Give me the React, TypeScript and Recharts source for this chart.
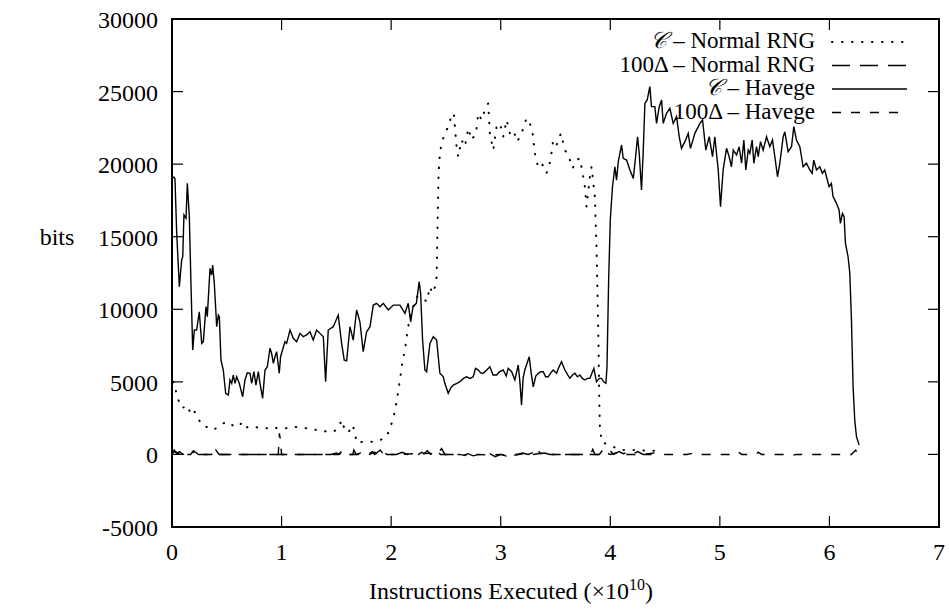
import { Label, Legend, Line, LineChart, ReferenceArea, XAxis, YAxis } from "recharts";

const xTicks = [0, 1, 2, 3, 4, 5, 6, 7];
const yTicks = [-5000, 0, 5000, 10000, 15000, 20000, 25000, 30000];

// C - Normal RNG (dotted)
const normalC: [number, number][] = [
  [0.01, 5000], [0.027, 4900], [0.043, 3975], [0.073, 3520], [0.094, 3180], [0.134, 3400],
  [0.164, 2940], [0.189, 3180], [0.231, 2600], [0.271, 2030], [0.332, 1840], [0.377, 1680],
  [0.423, 1910], [0.468, 2140], [0.514, 2250], [0.559, 1960], [0.605, 1910], [0.645, 2250],
  [0.687, 1870], [0.736, 1960], [0.803, 1800], [0.87, 1800], [0.909, 1910], [0.961, 1800],
  [1.016, 1800], [1.052, 1800], [1.107, 1910], [1.168, 1870], [1.229, 1800], [1.29, 1680],
  [1.35, 1720], [1.411, 1560], [1.472, 1560], [1.518, 1800], [1.548, 2370], [1.578, 1680],
  [1.609, 1500], [1.649, 2030], [1.67, 1450], [1.685, 810], [1.746, 875], [1.822, 875],
  [1.883, 920], [1.959, 1220], [1.989, 1800], [2.02, 2490], [2.05, 3630], [2.08, 5130],
  [2.105, 6500], [2.126, 7190], [2.148, 8450], [2.171, 9490], [2.202, 10180], [2.238, 10870],
  [2.278, 10870], [2.324, 10520], [2.354, 11550], [2.378, 11100], [2.4, 11550], [2.415, 12240],
  [2.421, 14770], [2.427, 17070], [2.433, 19370], [2.445, 20750], [2.46, 21430], [2.49, 22120],
  [2.53, 22700], [2.552, 23500], [2.573, 23390], [2.597, 21200], [2.612, 20510], [2.643, 21660],
  [2.673, 21200], [2.704, 22470], [2.734, 21660], [2.774, 22120], [2.795, 23500], [2.826, 23040],
  [2.856, 23730], [2.886, 24190], [2.901, 22120], [2.932, 20970], [2.962, 22580], [2.993, 22810],
  [3.023, 21890], [3.053, 23040], [3.084, 22120], [3.114, 22350], [3.151, 21550], [3.19, 22120],
  [3.236, 23160], [3.266, 22810], [3.291, 22120], [3.312, 20750], [3.343, 19710], [3.382, 19940],
  [3.418, 19370], [3.455, 20280], [3.479, 21660], [3.51, 21320], [3.549, 22120], [3.586, 20970],
  [3.616, 20630], [3.656, 19710], [3.692, 20280], [3.723, 20400], [3.753, 19130], [3.768, 18450],
  [3.783, 17070], [3.814, 19130], [3.829, 19820], [3.859, 17760], [3.874, 14310], [3.884, 10870],
  [3.893, 7420], [3.899, 3975], [3.905, 1910], [3.92, 875], [3.95, 765], [3.996, 650],
  [4.057, 420], [4.102, 300], [4.163, 300], [4.254, 300], [4.33, 250], [4.42, 250],
];

// 100Δ - Normal RNG (long dash)
const normalDelta: [number, number][] = [
  [0, 0], [0.02, 300], [0.04, 80], [0.07, 200], [0.1, 0], [0.13, 150], [0.16, 0], [0.2, 250],
  [0.24, 0], [0.3, 0], [0.38, 0], [0.4, 300], [0.43, 0], [0.5, 0], [0.6, 0], [0.7, 0], [0.8, 0],
  [0.9, 0], [1.0, 0], [1.1, 0], [1.2, 0], [1.3, 0], [1.45, 0], [1.5, 100], [1.53, 0], [1.55, 250],
  [1.58, 0], [1.65, 0], [1.66, 300], [1.68, 0], [1.72, 100], [1.75, 0], [1.78, 150], [1.8, 50],
  [1.83, 200], [1.85, 0], [1.9, 300], [1.92, 100], [1.95, 200], [1.98, 0], [2.05, 0], [2.1, 150],
  [2.15, 0], [2.25, 0], [2.28, 150], [2.3, 50], [2.33, 250], [2.36, 0], [2.4, 200], [2.43, 100],
  [2.46, 400], [2.49, 0], [2.6, 0], [2.65, -100], [2.7, 50], [2.75, -100], [2.8, 0], [2.85, -100],
  [2.9, 50], [2.95, -150], [3.0, 0], [3.05, -100], [3.1, 100], [3.15, 0], [3.2, 100], [3.25, 0],
  [3.3, 150], [3.33, 450], [3.36, 50], [3.4, 100], [3.45, 0], [3.55, 0], [3.7, 0], [3.82, 0],
  [3.84, 350], [3.86, 0], [3.9, 0], [3.93, 300], [3.96, 100], [4.0, 250], [4.03, 0], [4.08, 200],
  [4.12, 50], [4.16, 150], [4.2, 0], [4.25, 200], [4.3, 0], [4.4, 0],
];

// C - Havege (solid)
const havegeC: [number, number][] = [
  [0.005, 19100], [0.018, 19100], [0.027, 18990], [0.043, 15230], [0.067, 11550], [0.088, 13390],
  [0.098, 13620], [0.109, 16500], [0.128, 16270], [0.14, 18680], [0.158, 16380], [0.173, 11790],
  [0.189, 7190], [0.204, 8570], [0.225, 8570], [0.249, 9830], [0.271, 7650], [0.286, 7770],
  [0.31, 10180], [0.322, 9490], [0.347, 12820], [0.362, 12360], [0.371, 13050], [0.386, 11790],
  [0.408, 8800], [0.423, 9600], [0.432, 9490], [0.447, 6500], [0.468, 5815], [0.49, 4210],
  [0.514, 4090], [0.529, 5130], [0.545, 4900], [0.559, 5470], [0.575, 4900], [0.59, 5350],
  [0.614, 4900], [0.645, 3975], [0.666, 5130], [0.687, 5630], [0.712, 5590], [0.727, 4900],
  [0.748, 5700], [0.766, 4780], [0.788, 5700], [0.803, 4900], [0.827, 3865], [0.849, 5815],
  [0.87, 6040], [0.894, 7310], [0.909, 6970], [0.925, 6280], [0.94, 6730], [0.955, 7080],
  [0.979, 5590], [0.991, 6730], [1.031, 7770], [1.046, 7650], [1.077, 8570], [1.107, 8000],
  [1.137, 7770], [1.168, 8340], [1.198, 8110], [1.229, 8230], [1.259, 8450], [1.289, 7880],
  [1.32, 8570], [1.35, 8340], [1.381, 8110], [1.402, 5010], [1.426, 8570], [1.472, 8800],
  [1.517, 9600], [1.548, 7650], [1.572, 6500], [1.594, 6450], [1.624, 8800], [1.654, 7880],
  [1.685, 9950], [1.715, 9140], [1.745, 7080], [1.776, 8450], [1.807, 8800], [1.837, 10290],
  [1.867, 10410], [1.898, 10180], [1.928, 10410], [1.974, 9950], [2.02, 10290], [2.08, 10290],
  [2.126, 9720], [2.156, 10410], [2.178, 9140], [2.2, 10180], [2.23, 10410], [2.256, 11900],
  [2.269, 11100], [2.287, 7880], [2.308, 5815], [2.324, 5700], [2.354, 7650], [2.385, 8110],
  [2.415, 7880], [2.43, 6730], [2.445, 5590], [2.476, 5350], [2.49, 4900], [2.521, 4210],
  [2.545, 4600], [2.567, 4780], [2.6, 4900], [2.628, 5010], [2.66, 5240], [2.688, 5350],
  [2.72, 5240], [2.749, 5350], [2.77, 5930], [2.795, 5815], [2.82, 5600], [2.84, 5590],
  [2.87, 5800], [2.901, 6040], [2.93, 5470], [2.962, 5470], [2.99, 5700], [3.023, 5815],
  [3.05, 5400], [3.068, 5930], [3.1, 5700], [3.129, 5130], [3.16, 6160], [3.175, 5000],
  [3.19, 3400], [3.205, 5300], [3.22, 5815], [3.26, 6730], [3.28, 5500], [3.297, 4660],
  [3.32, 5400], [3.343, 5590], [3.365, 5700], [3.388, 5700], [3.41, 5350], [3.434, 5350],
  [3.455, 5600], [3.479, 5815], [3.51, 5590], [3.53, 6000], [3.555, 6390], [3.586, 5815],
  [3.61, 5500], [3.631, 5240], [3.655, 5470], [3.677, 5590], [3.7, 5350], [3.723, 5470],
  [3.745, 5240], [3.768, 5130], [3.79, 5240], [3.814, 5240], [3.85, 5930], [3.874, 5010],
  [3.9, 5240], [3.92, 5240], [3.94, 5000], [3.96, 4900], [3.97, 6000], [3.985, 12000],
  [4.0, 16150], [4.02, 18440], [4.042, 19820], [4.057, 18900], [4.073, 20170], [4.103, 21320],
  [4.118, 20400], [4.149, 20280], [4.179, 19600], [4.21, 19020], [4.225, 20060], [4.249, 21890],
  [4.264, 20750], [4.285, 18220], [4.3, 20750], [4.316, 24190], [4.337, 24420], [4.361, 25340],
  [4.376, 23960], [4.407, 23960], [4.422, 22810], [4.447, 23960], [4.468, 24420], [4.483, 22810],
  [4.513, 23500], [4.544, 23850], [4.574, 22810], [4.605, 23270], [4.629, 21890], [4.65, 21090],
  [4.681, 21550], [4.711, 22120], [4.732, 21090], [4.772, 22120], [4.818, 22810], [4.842, 23040],
  [4.872, 20970], [4.903, 21890], [4.933, 20510], [4.954, 21890], [4.985, 19600], [5.006, 17070],
  [5.03, 19600], [5.061, 21090], [5.085, 20510], [5.106, 19820], [5.122, 20970], [5.152, 20630],
  [5.176, 21200], [5.198, 20060], [5.219, 21660], [5.237, 19600], [5.259, 20970], [5.274, 20750],
  [5.295, 21660], [5.31, 20060], [5.335, 21200], [5.35, 20510], [5.371, 21550], [5.395, 20970],
  [5.426, 21890], [5.456, 21200], [5.48, 21660], [5.502, 20510], [5.526, 19130], [5.547, 20060],
  [5.578, 21890], [5.593, 22230], [5.623, 20860], [5.654, 21200], [5.675, 22580], [5.699, 21660],
  [5.73, 21200], [5.76, 19820], [5.79, 20060], [5.821, 19600], [5.842, 19370], [5.857, 20280],
  [5.882, 19600], [5.912, 19820], [5.936, 19370], [5.957, 19600], [5.973, 19130], [5.997, 18450],
  [6.018, 18680], [6.033, 17760], [6.064, 17300], [6.088, 16840], [6.1, 15920], [6.119, 16610],
  [6.134, 16380], [6.146, 14550], [6.17, 13620], [6.186, 12480], [6.201, 9260], [6.216, 4670],
  [6.231, 2370], [6.247, 1220], [6.271, 650],
];

// 100Δ - Havege (short dash)
const havegeDelta: [number, number][] = [
  [0, 100], [0.03, 200], [0.06, 50], [0.09, 250], [0.12, 0], [0.17, 0], [0.19, 200], [0.21, 0],
  [0.3, 0], [0.36, 0], [0.41, 250], [0.44, 0], [0.55, 0], [0.62, 0], [0.7, 0], [0.8, 0], [0.9, 0],
  [0.97, 0], [0.98, 1450], [0.99, 1000], [1.0, 0], [1.1, 0], [1.2, 0], [1.3, 0], [1.4, 0],
  [1.52, 0], [1.54, 150], [1.57, 0], [1.7, 0], [1.75, 100], [1.8, 0], [1.85, 150], [1.88, 0],
  [1.93, 200], [1.96, 0], [2.02, 0], [2.1, 0], [2.2, 50], [2.25, 0], [2.35, 100], [2.38, 0],
  [2.42, 250], [2.45, 0], [2.55, 0], [2.62, 0], [2.7, -100], [2.8, 0], [2.9, -50], [3.0, 0],
  [3.1, -100], [3.2, 50], [3.3, 0], [3.38, 100], [3.42, 0], [3.5, 0], [3.6, 0], [3.7, 0], [3.8, 0],
  [3.9, 0], [3.95, 150], [4.0, 0], [4.05, 100], [4.1, 0], [4.2, 0], [4.3, 0], [4.4, 100], [4.45, 0],
  [4.6, 0], [4.7, 0], [4.76, 100], [4.8, 0], [5.0, 0], [5.15, 0], [5.17, 150], [5.2, 0], [5.33, 0],
  [5.35, 150], [5.38, 0], [5.6, 0], [5.64, -100], [5.7, 0], [6.0, 0], [6.2, 0], [6.24, 300], [6.26, 0],
];

const toPoints = (pairs: [number, number][]) => pairs.map(([x, y]) => ({ x, y }));

const series = [
  { key: "normalC", label: "– Normal RNG", prefix: "C", data: toPoints(normalC), dash: "0.5 9.5" },
  { key: "normalDelta", label: "– Normal RNG", prefix: "100Δ", data: toPoints(normalDelta), dash: "18 10" },
  { key: "havegeC", label: "– Havege", prefix: "C", data: toPoints(havegeC), dash: undefined },
  { key: "havegeDelta", label: "– Havege", prefix: "100Δ", data: toPoints(havegeDelta), dash: "9 10" },
];

const W = 949;
const H = 609;
const PLOT = { left: 172, right: 939, top: 19, bottom: 527 };
const FONT = "'Liberation Serif', 'Times New Roman', serif";

const XTick = (props: any) => {
  const { x, payload } = props;
  return (
    <g>
      <line x1={x} x2={x} y1={PLOT.bottom} y2={PLOT.bottom - 11} stroke="#000" strokeWidth={1.2} />
      <line x1={x} x2={x} y1={PLOT.top} y2={PLOT.top + 11} stroke="#000" strokeWidth={1.2} />
      <text x={x} y={PLOT.bottom + 33} textAnchor="middle" fontFamily={FONT} fontSize={24} fill="#000">
        {payload.value}
      </text>
    </g>
  );
};

const YTick = (props: any) => {
  const { y, payload } = props;
  return (
    <g>
      <line x1={PLOT.left} x2={PLOT.left + 11} y1={y} y2={y} stroke="#000" strokeWidth={1.2} />
      <line x1={PLOT.right} x2={PLOT.right - 11} y1={y} y2={y} stroke="#000" strokeWidth={1.2} />
      <text x={158} y={y + 9} textAnchor="end" fontFamily={FONT} fontSize={24} fill="#000">
        {payload.value}
      </text>
    </g>
  );
};

const renderLegend = () => (
  <svg width={W} height={140} style={{ display: "block", overflow: "visible" }}>
    {series.map((s, i) => {
      const base = 48 + i * 23.5;
      return (
        <g key={s.key}>
          <text x={815} y={base} textAnchor="end" fontFamily={FONT} fontSize={23} fill="#000">
            {s.prefix === "C" ? (
              <tspan fontFamily="'DejaVu Serif', serif" fontStyle="italic">𝒞</tspan>
            ) : (
              <tspan>{s.prefix}</tspan>
            )}
            <tspan> {s.label}</tspan>
          </text>
          <line
            x1={832}
            x2={907}
            y1={base - 6}
            y2={base - 6}
            stroke="#000"
            strokeWidth={s.dash === "0.5 9.5" ? 2 : 1.4}
            strokeLinecap={s.dash === "0.5 9.5" ? "round" : "butt"}
            strokeDasharray={s.dash}
          />
        </g>
      );
    })}
  </svg>
);

const XLabel = () => (
  <text x={511} y={599} textAnchor="middle" fontFamily={FONT} fontSize={24} fill="#000">
    Instructions Executed (×10
    <tspan dy={-9} fontSize={16}>10</tspan>
    <tspan dy={9}>)</tspan>
  </text>
);

const YLabel = () => (
  <text x={57} y={245} textAnchor="middle" fontFamily={FONT} fontSize={24} fill="#000">
    bits
  </text>
);

export default function App() {
  return (
    <div style={{ position: "absolute", left: 0, top: 0, background: "#fff" }}>
      <LineChart width={W} height={H} margin={{ top: PLOT.top, right: W - PLOT.right, bottom: 0, left: 0 }}>
        <XAxis
          dataKey="x"
          type="number"
          domain={[0, 7]}
          ticks={xTicks}
          interval={0}
          height={H - PLOT.bottom}
          axisLine={false}
          tickLine={false}
          tickSize={0}
          tickMargin={0}
          tick={<XTick />}
          allowDataOverflow
        >
          <Label content={<XLabel />} />
        </XAxis>
        <YAxis
          type="number"
          domain={[-5000, 30000]}
          ticks={yTicks}
          interval={0}
          width={PLOT.left}
          axisLine={false}
          tickLine={false}
          tickSize={0}
          tickMargin={0}
          tick={<YTick />}
          allowDataOverflow
        >
          <Label content={<YLabel />} />
        </YAxis>
        <ReferenceArea x1={0} x2={7} y1={-5000} y2={30000} fill="none" stroke="#000" strokeWidth={2} strokeOpacity={1} fillOpacity={0} />
        {series.map((s) => (
          <Line
            key={s.key}
            data={s.data}
            dataKey="y"
            type="linear"
            dot={false}
            stroke="#000"
            strokeWidth={s.key === "normalC" ? 2 : 1.4}
            strokeLinecap={s.key === "normalC" ? "round" : "butt"}
            strokeDasharray={s.dash}
            isAnimationActive={false}
          />
        ))}
        <Legend
          content={renderLegend}
          verticalAlign="middle"
          wrapperStyle={{ position: "absolute", left: 0, top: 0, width: W, height: 140, pointerEvents: "none" }}
        />
      </LineChart>
    </div>
  );
}
